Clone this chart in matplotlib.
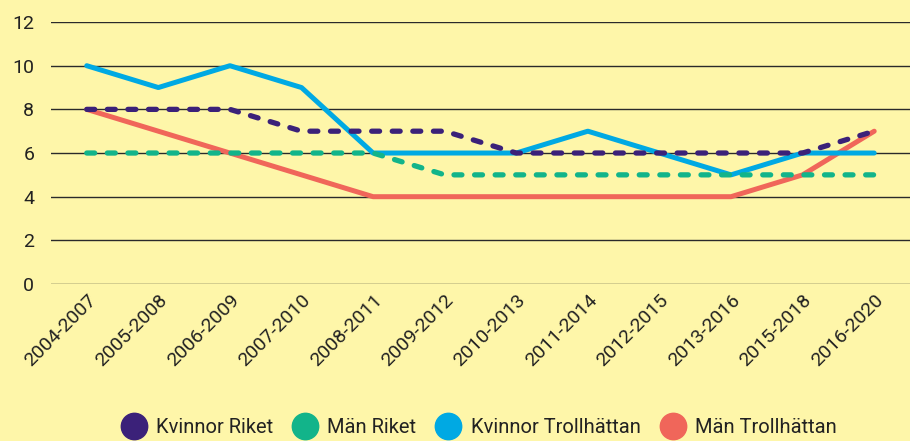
import matplotlib
matplotlib.use("Agg")
import matplotlib.pyplot as plt
from matplotlib.lines import Line2D

periods = ["2004-2007", "2005-2008", "2006-2009", "2007-2010", "2008-2011", "2009-2012",
           "2010-2013", "2011-2014", "2012-2015", "2013-2016", "2015-2018", "2016-2020"]
kvinnor_riket = [8, 8, 8, 7, 7, 7, 6, 6, 6, 6, 6, 7]
man_riket = [6, 6, 6, 6, 6, 5, 5, 5, 5, 5, 5, 5]
kvinnor_thn = [10, 9, 10, 9, 6, 6, 6, 7, 6, 5, 6, 6]
man_thn = [8, 7, 6, 5, 4, 4, 4, 4, 4, 4, 5, 7]

bg = "#FEF6A9"
c_kr = "#3B2179"
c_mr = "#12B48A"
c_kt = "#00A9E3"
c_mt = "#F0665A"

plt.rcParams['font.family'] = ['Roboto', 'DejaVu Sans']

fig = plt.figure(figsize=(9.1, 4.41), dpi=100, facecolor=bg)
ax = fig.add_axes([0.056, 0.356, 0.944, 0.594], facecolor=bg)

x = list(range(len(periods)))
ax.plot(x, man_thn, color=c_mt, lw=3.6, solid_capstyle='round', solid_joinstyle='round', zorder=3)
ax.plot(x, kvinnor_thn, color=c_kt, lw=3.6, solid_capstyle='round', solid_joinstyle='round', zorder=3)
ax.plot(x, man_riket, color=c_mr, lw=3.8, dashes=(1.5, 2.4), dash_capstyle='round', zorder=4)
ax.plot(x, kvinnor_riket, color=c_kr, lw=3.8, dashes=(1.5, 2.4), dash_capstyle='round', zorder=4)

ax.set_xlim(-0.5, 11.5)
ax.set_ylim(0, 12)
ax.set_yticks(range(0, 13, 2))
ax.yaxis.grid(True, color="#2a2a2a", lw=1)
ax.set_axisbelow(True)
for s in ax.spines.values():
    s.set_visible(False)
ax.tick_params(axis='both', length=0, colors="#222222")
ax.tick_params(axis='y', labelsize=14, pad=12)
ax.tick_params(axis='x', labelsize=14, pad=5)
ax.set_xticks(x)
ax.set_xticklabels(periods, rotation=45, ha='right', rotation_mode='anchor')

handles = [Line2D([], [], marker='o', ls='', ms=19, color=c) for c in (c_kr, c_mr, c_kt, c_mt)]
labels = ["Kvinnor Riket", "Män Riket", "Kvinnor Trollhättan", "Män Trollhättan"]
fig.legend(handles, labels, loc='center', bbox_to_anchor=(0.522, 0.03), ncol=4, frameon=False,
           fontsize=14.5, handletextpad=0.1, columnspacing=0.6, labelcolor="#222222")

fig.savefig("out.png", dpi=100, facecolor=bg)
